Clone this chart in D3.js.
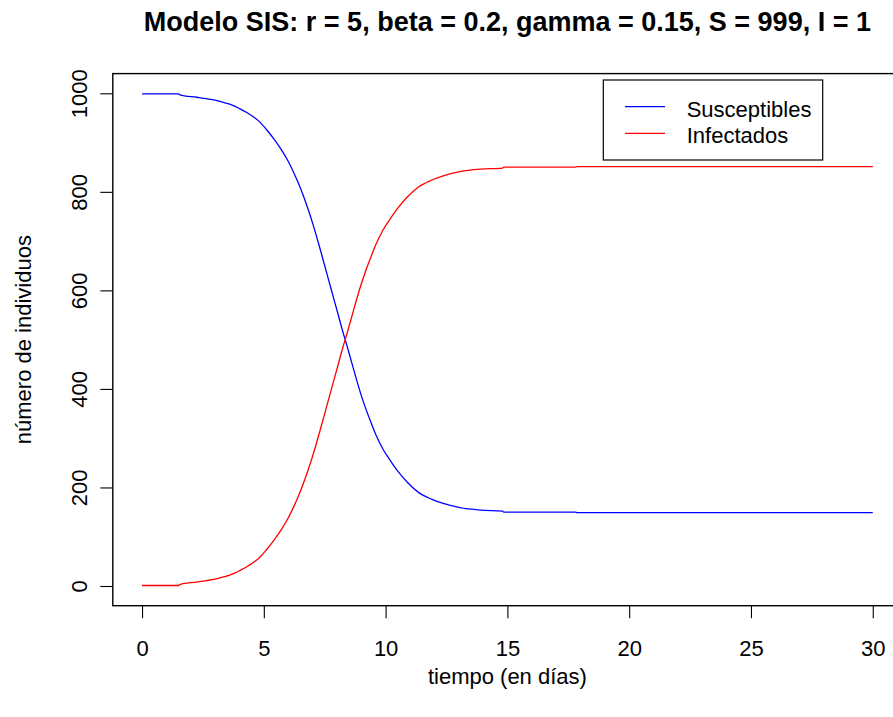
<!DOCTYPE html>
<html>
<head>
<meta charset="utf-8">
<script src="https://cdn.jsdelivr.net/npm/d3@7"></script>
<style>
  html, body { margin: 0; padding: 0; background: #ffffff; }
  svg { display: block; }
  text { font-family: "Liberation Sans", Arial, Helvetica, sans-serif; }
</style>
</head>
<body>
<svg id="chart" width="893" height="717"></svg>
<script>
// ---- data ----
const tiempo = [0, 1.5, 1.55, 2.25, 2.65, 3.0, 3.3, 3.6, 3.8, 4.0, 4.3, 4.55, 4.85, 5.1, 5.45, 5.75,
  6.0, 6.2, 6.4, 6.6, 6.85, 7.05, 7.3, 7.6, 7.8, 8.05, 8.25, 8.4, 8.6, 8.8, 9.0, 9.2, 9.4, 9.6, 9.9,
  10.2, 10.5, 10.9, 11.35, 11.9, 12.4, 13.05, 13.9, 14.8, 14.85, 17.8, 17.85, 30];
const susceptibles = [999, 999, 997, 992, 989, 986, 982, 978, 974, 969, 961, 953, 941, 927, 905, 883,
  862, 842, 820, 795, 760, 729, 686, 632, 596, 551, 515, 490, 455, 420, 387, 358, 332, 307, 277,
  254, 233, 210, 190, 176, 167, 159, 154, 152, 150, 150, 149, 149];
const infectados = [1, 1, 3, 8, 11, 14, 18, 22, 26, 31, 39, 47, 59, 73, 95, 117,
  138, 158, 180, 205, 240, 271, 314, 368, 404, 449, 485, 510, 545, 580, 613, 642, 668, 693, 723,
  746, 767, 790, 810, 824, 833, 841, 846, 848, 850, 850, 851, 851];
const xTicks = [0, 5, 10, 15, 20, 25, 30];
const yTicks = [0, 200, 400, 600, 800, 1000];
const seriesNames = ["Susceptibles", "Infectados"];
const seriesColors = ["#0000FF", "#FF0000"];
const titulo = "Modelo SIS: r = 5, beta = 0.2, gamma = 0.15, S = 999, I = 1";
const xLabel = "tiempo (en días)";
const yLabel = "número de individuos";

(function () {
// ---- layout ----
const svg = d3.select("#chart");
const pLeft = 112.8, pRight = 902, pTop = 73.6, pBottom = 605.7;
const x = d3.scaleLinear().domain([-1.2, 31.2]).range([pLeft, pRight]);
const y = d3.scaleLinear().domain([-40, 1040]).range([pBottom, pTop]);
const axisFont = 22;
const fam = "'Liberation Sans', Arial, sans-serif";

svg.append("rect").attr("width", 893).attr("height", 717).attr("fill", "#fff");

// series
const series = [susceptibles, infectados];
const line = d3.line().x((d, i) => x(tiempo[i])).y(d => y(d)).curve(d3.curveMonotoneX);
series.forEach((vals, k) => {
  svg.append("path").datum(vals)
    .attr("d", line)
    .attr("fill", "none")
    .attr("stroke", seriesColors[k])
    .attr("stroke-width", 1.3)
    .attr("stroke-linejoin", "round");
});

// box
svg.append("rect")
  .attr("x", pLeft).attr("y", pTop)
  .attr("width", pRight - pLeft).attr("height", pBottom - pTop)
  .attr("fill", "none").attr("stroke", "#000").attr("stroke-width", 1.4);

// x axis
const gx = svg.append("g").attr("transform", `translate(0,${pBottom})`)
  .call(d3.axisBottom(x).tickValues(xTicks).tickSize(12.5).tickPadding(22).tickFormat(d3.format("d")));
gx.select(".domain").remove();
gx.selectAll(".tick line").attr("stroke", "#000").attr("stroke-width", 1.1);
gx.selectAll(".tick text").attr("font-size", axisFont)
  .attr("font-family", fam).attr("fill", "#000");

// y axis
const gy = svg.append("g").attr("transform", `translate(${pLeft},0)`)
  .call(d3.axisLeft(y).tickValues(yTicks).tickSize(12.5).tickFormat(d3.format("d")));
gy.select(".domain").remove();
gy.selectAll(".tick line").attr("stroke", "#000").attr("stroke-width", 1.1);
gy.selectAll(".tick text")
  .attr("x", null).attr("dy", null)
  .attr("text-anchor", "middle")
  .attr("transform", "translate(-26,0) rotate(-90)")
  .attr("font-size", axisFont)
  .attr("font-family", fam).attr("fill", "#000");

// labels
const cx = (pLeft + pRight) / 2;
svg.append("text").attr("x", cx).attr("y", 31)
  .attr("text-anchor", "middle").attr("font-weight", "bold").attr("font-size", 27)
  .text(titulo);
svg.append("text").attr("x", cx).attr("y", 684)
  .attr("text-anchor", "middle").attr("font-size", axisFont)
  .text(xLabel);
svg.append("text")
  .attr("transform", `translate(31,${(pTop + pBottom) / 2}) rotate(-90)`)
  .attr("text-anchor", "middle").attr("font-size", axisFont)
  .text(yLabel);

// legend
const lg = svg.append("g");
lg.append("rect").attr("x", 603.3).attr("y", 80).attr("width", 219.4).attr("height", 80)
  .attr("fill", "#fff").attr("stroke", "#000").attr("stroke-width", 1.2);
seriesNames.forEach((name, k) => {
  const ly = 106.7 + k * 26.6;
  lg.append("line").attr("x1", 625).attr("x2", 665).attr("y1", ly).attr("y2", ly)
    .attr("stroke", seriesColors[k]).attr("stroke-width", 1.3);
  lg.append("text").attr("x", 686.7).attr("y", ly + 10)
    .attr("font-size", axisFont).text(name);
});
})();
</script>
</body>
</html>
